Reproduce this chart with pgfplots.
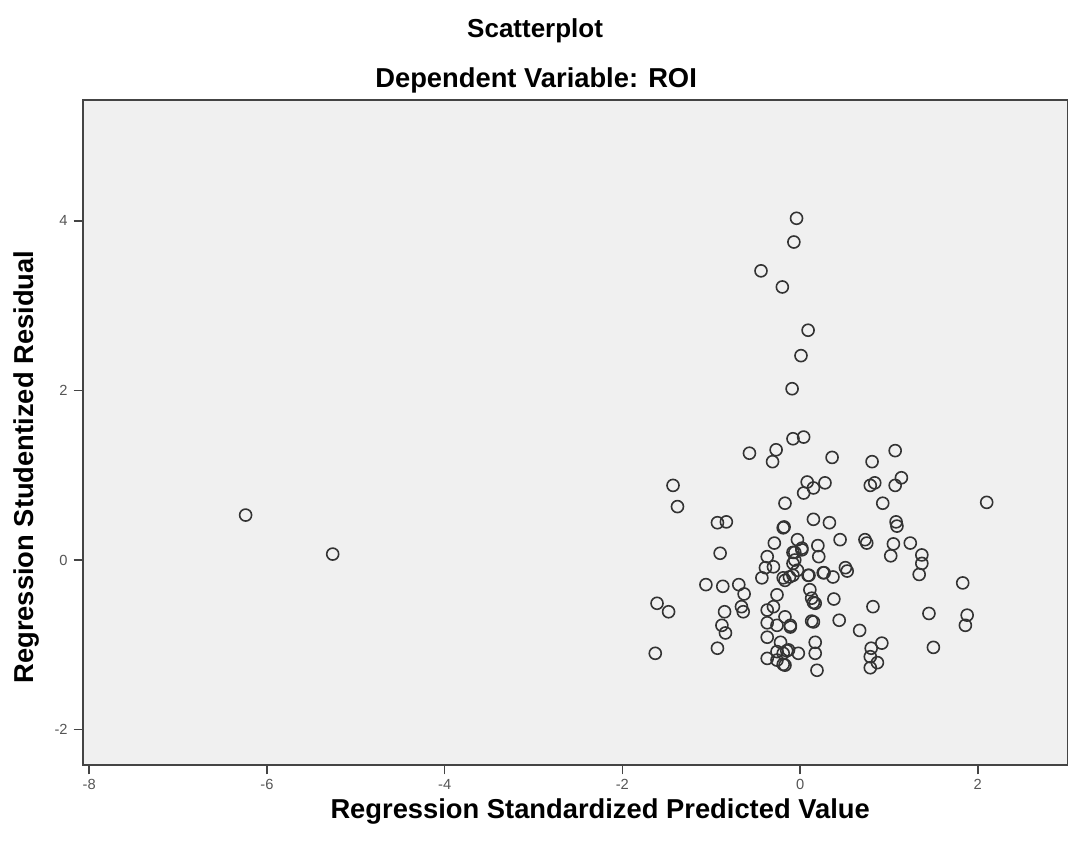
\documentclass[border=0pt]{standalone}
\usepackage{pgfplots}
\pgfplotsset{compat=1.18}
\usepackage{fontspec}
\setmainfont{Liberation Sans}
\definecolor{bgc}{HTML}{F0F0F0}
\definecolor{frm}{HTML}{444444}
\definecolor{tkc}{HTML}{555555}
\begin{document}
\begin{tikzpicture}
\path[use as bounding box] (0,0) rectangle (801pt,633.75pt);
\begin{axis}[
  at={(62.25pt,60pt)}, anchor=south west,
  scale only axis, width=738.75pt, height=498.75pt,
  xmin=-8.07, xmax=3.015, ymin=-2.417, ymax=5.425,
  xtick={-8,-6,-4,-2,0,2}, ytick={-2,0,2,4},
  xticklabels={-8,-6,-4,-2,0,2}, yticklabels={-2,0,2,4},
  tick align=outside, tick pos=left,
  major tick length=7pt,
  every tick/.style={frm, line width=1.2pt},
  axis line style={frm, line width=2pt},
  axis background/.style={fill=bgc},
  ticklabel style={font=\fontsize{11}{13}\selectfont, text=tkc},
  xticklabel style={yshift=0pt},
  yticklabel style={xshift=-1pt},
  xlabel={Regression Standardized Predicted Value},
  ylabel={Regression Studentized Residual},
  xlabel style={at={(rel axis cs:0.525,-0.070)}, anchor=center, font=\fontsize{20.5}{24}\selectfont\bfseries},
  ylabel style={at={(rel axis cs:-0.0575,0.448)}, anchor=center, rotate=0, font=\fontsize{20.5}{24}\selectfont\bfseries},
  clip=false,
]
\node[font=\fontsize{19.5}{22}\selectfont\bfseries] at (rel axis cs:0.459,1.104) {Scatterplot};
\node[font=\fontsize{20.5}{24}\selectfont\bfseries] at (rel axis cs:0.46,1.030) {Dependent Variable: ROI};
\addplot[only marks, mark=o, mark size=4.5pt, mark options={draw=black!80, line width=1.2pt}] coordinates {
(-6.24,0.53) (-5.26,0.07)
(-0.04,4.03) (-0.07,3.75) (-0.44,3.41) (-0.20,3.22) (0.09,2.71) (0.01,2.41) (-0.09,2.02)
(-0.08,1.43) (0.04,1.45) (-0.57,1.26) (-0.27,1.30) (-0.31,1.16) (0.36,1.21) (0.81,1.16) (1.07,1.29)
(-1.43,0.88) (-1.38,0.63) (-0.93,0.44) (-0.83,0.45) (-0.90,0.08) (-1.06,-0.29) (-0.87,-0.31)
(-0.69,-0.29) (-0.63,-0.40) (-1.61,-0.51) (-1.48,-0.61) (-0.85,-0.61) (-0.66,-0.55) (-0.64,-0.61)
(-0.88,-0.77) (-0.84,-0.86) (-0.93,-1.04) (-1.63,-1.10)
(-0.17,0.67) (-0.19,0.38) (0.08,0.92) (0.04,0.79) (0.15,0.85) (0.28,0.91) (0.15,0.48) (0.33,0.44)
(-0.29,0.20) (-0.37,0.04) (-0.39,-0.09) (-0.43,-0.21) (-0.30,-0.08) (-0.19,-0.21) (-0.08,-0.18)
(-0.03,0.24) (-0.08,0.09) (0.02,0.14) (-0.06,0.00) (-0.03,-0.12) (0.20,0.17) (0.21,0.04) (0.45,0.24)
(0.27,-0.15) (0.37,-0.20) (0.51,-0.09) (0.10,-0.18) (-0.26,-0.41) (-0.37,-0.59) (-0.30,-0.55)
(-0.17,-0.67) (-0.37,-0.74) (-0.26,-0.77) (-0.11,-0.77) (-0.37,-0.91) (-0.22,-0.97) (0.11,-0.35)
(0.15,-0.50) (0.15,-0.73) (0.38,-0.46) (0.44,-0.71) (0.67,-0.83) (-0.37,-1.16) (-0.26,-1.08)
(-0.15,-1.07) (-0.02,-1.10) (-0.26,-1.18) (-0.19,-1.23) (0.17,-0.97) (0.17,-1.10) (0.19,-1.30)
(0.79,0.88) (0.84,0.91) (1.07,0.88) (1.14,0.97) (0.93,0.67) (2.10,0.68) (1.08,0.45) (1.09,0.40)
(0.73,0.24) (0.75,0.20) (1.05,0.19) (1.24,0.20) (1.02,0.05) (1.37,0.06) (1.37,-0.04) (0.53,-0.13)
(1.34,-0.17) (1.83,-0.27) (0.82,-0.55) (1.45,-0.63) (1.88,-0.65) (1.86,-0.77) (1.50,-1.03)
(0.92,-0.98) (0.80,-1.04) (0.79,-1.14) (0.87,-1.21) (0.79,-1.27) (-0.17,-1.24) (-0.13,-1.06)
(-0.19,-1.10) (-0.11,-0.79) (0.13,-0.72) (0.13,-0.45) (0.17,-0.51) (0.09,-0.18) (0.26,-0.15)
(0.02,0.12) (-0.06,0.09) (-0.18,0.39) (-0.17,-0.24) (-0.12,-0.20) (-0.08,-0.04)
};
\end{axis}
\end{tikzpicture}
\end{document}
